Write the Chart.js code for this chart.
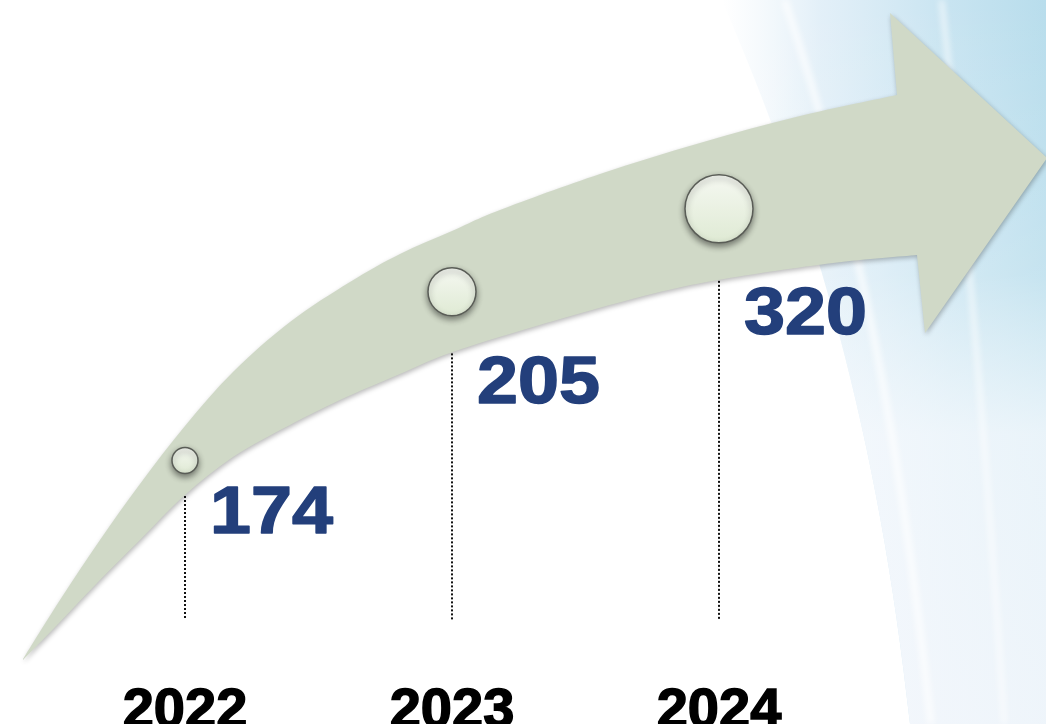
<!DOCTYPE html>
<html>
<head>
<meta charset="utf-8">
<script src="https://cdn.jsdelivr.net/npm/chart.js@4/dist/chart.umd.min.js"></script>
<style>
    html, body { margin: 0; padding: 0; background: #ffffff; }
    #wrap { width: 1046px; height: 724px; position: relative; }
</style>
</head>
<body>
<div id="wrap"><canvas id="growth-chart"></canvas></div>
<script>
const years = [2022, 2023, 2024];
const yearLabels = ['2022', '2023', '2024'];
const values = [174, 205, 320];

const DOT_RADII = [13, 24, 34];
const VALUE_COLOR = '#233f7b';
const ARROW_COLOR = '#d0d9c7';
const AXIS_H = 40;
const DESIGN_W = 1046;
const DESIGN_H = 724 - AXIS_H;
const X_MIN = 2022 - 185 / 267;
const X_MAX = 2024 + 327 / 267;

// arrow outline, traced in the design box (x across, y down)
const arrowUpper = [[23,659],[60,600],[100,540],[140,484],[185,426],[233,372],[290,322],[350,282],[400,254],[452,231],[500,210],[600,174],[700,143],[800,116],[897,95]];
const arrowLower = [[23,660],[60,622],[100,580],[140,540],[185,495],[233,457],[290,425],[340,400],[400,374],[450,353],[533,327],[640,297],[718,280],[833,263],[917,255]];
const arrowHead = [[890,13],[1047,158],[925,333]];

function yearToDesign(year)
{
    return (year - X_MIN) / (X_MAX - X_MIN) * DESIGN_W;
}

function designToYear(x)
{
    return X_MIN + x / DESIGN_W * (X_MAX - X_MIN);
}

function edgeY(edge, x)
{
    for (let i = 0; i < edge.length - 1; i++) {
        const a = edge[i], b = edge[i + 1];
        if (x >= a[0] && x <= b[0]) {
            return a[1] + (b[1] - a[1]) * (x - a[0]) / (b[0] - a[0]);
        }
    }
    return edge[edge.length - 1][1];
}

function arrowMid(x)
{
    return (edgeY(arrowUpper, x) + edgeY(arrowLower, x)) / 2;
}

function toPixel(chart, p)
{
    return [chart.scales.x.getPixelForValue(designToYear(p[0])), chart.scales.y.getPixelForValue(p[1])];
}

function smoothPath(ctx, pts, moveFirst)
{
    if (moveFirst) ctx.moveTo(pts[0][0], pts[0][1]);
    else ctx.lineTo(pts[0][0], pts[0][1]);
    for (let i = 0; i < pts.length - 1; i++) {
        const p0 = pts[Math.max(i - 1, 0)], p1 = pts[i], p2 = pts[i + 1], p3 = pts[Math.min(i + 2, pts.length - 1)];
        ctx.bezierCurveTo(
            p1[0] + (p2[0] - p0[0]) / 6, p1[1] + (p2[1] - p0[1]) / 6,
            p2[0] - (p3[0] - p1[0]) / 6, p2[1] - (p3[1] - p1[1]) / 6,
            p2[0], p2[1]);
    }
}

function drawBackdrop(chart)
{
    const ctx = chart.ctx, w = chart.width, h = chart.height;
    ctx.save();
    ctx.fillStyle = '#ffffff';
    ctx.fillRect(0, 0, w, h);

    // blue swoosh on the right, fading out toward the bottom
    ctx.beginPath();
    ctx.moveTo(w * 0.69, 0);
    ctx.bezierCurveTo(w * 0.78, h * 0.3, w * 0.84, h * 0.6, w * 0.87, h);
    ctx.lineTo(w, h);
    ctx.lineTo(w, 0);
    ctx.closePath();
    const g = ctx.createLinearGradient(w * 0.69, 0, w, 0);
    g.addColorStop(0, 'rgba(230,241,249,0)');
    g.addColorStop(0.3, 'rgba(222,237,247,0.85)');
    g.addColorStop(0.7, 'rgba(200,228,241,1)');
    g.addColorStop(1, 'rgba(184,221,236,1)');
    ctx.fillStyle = g;
    ctx.fill();
    const f = ctx.createLinearGradient(0, 0, 0, h);
    f.addColorStop(0, 'rgba(255,255,255,0)');
    f.addColorStop(0.38, 'rgba(255,255,255,0.2)');
    f.addColorStop(0.6, 'rgba(250,251,254,0.75)');
    f.addColorStop(1, 'rgba(248,249,253,0.85)');
    ctx.fillStyle = f;
    ctx.fill();

    // pale streaks through the band
    ctx.filter = 'blur(3px)';
    ctx.strokeStyle = 'rgba(255,255,255,0.8)';
    ctx.lineWidth = 6;
    ctx.beginPath();
    ctx.moveTo(w * 0.75, 0);
    ctx.bezierCurveTo(w * 0.82, h * 0.3, w * 0.86, h * 0.6, w * 0.89, h);
    ctx.stroke();
    ctx.lineWidth = 4;
    ctx.beginPath();
    ctx.moveTo(w * 0.9, 0);
    ctx.bezierCurveTo(w * 0.92, h * 0.25, w * 0.94, h * 0.55, w * 0.96, h);
    ctx.stroke();
    ctx.filter = 'none';
    ctx.restore();
}

function drawArrow(chart)
{
    const ctx = chart.ctx;
    const upper = arrowUpper.map(p => toPixel(chart, p));
    const lower = arrowLower.map(p => toPixel(chart, p)).reverse();
    const head = arrowHead.map(p => toPixel(chart, p));

    ctx.save();
    ctx.beginPath();
    smoothPath(ctx, upper, true);
    head.forEach(p => ctx.lineTo(p[0], p[1]));
    smoothPath(ctx, lower, false);
    ctx.closePath();
    ctx.shadowColor = 'rgba(0,0,0,0.28)';
    ctx.shadowBlur = 5;
    ctx.shadowOffsetX = 1;
    ctx.shadowOffsetY = 2;
    ctx.fillStyle = ARROW_COLOR;
    ctx.fill();
    ctx.restore();
}

function drawGuides(chart)
{
    const ctx = chart.ctx;
    ctx.save();
    ctx.strokeStyle = '#111111';
    ctx.lineWidth = 2;
    ctx.setLineDash([2, 2]);
    years.forEach(year => {
        const xd = yearToDesign(year);
        const top = toPixel(chart, [xd, edgeY(arrowLower, xd) + 1]);
        const bottom = toPixel(chart, [xd, 620]);
        ctx.beginPath();
        ctx.moveTo(Math.round(top[0]), top[1]);
        ctx.lineTo(Math.round(top[0]), bottom[1]);
        ctx.stroke();
    });
    ctx.restore();
}

function drawValues(chart)
{
    const ctx = chart.ctx;
    const stretch = 1.1;
    ctx.save();
    ctx.font = 'bold 67px "Liberation Sans", Arial, sans-serif';
    ctx.fillStyle = VALUE_COLOR;
    ctx.strokeStyle = VALUE_COLOR;
    ctx.lineWidth = 1.5;
    ctx.lineJoin = 'round';
    ctx.textAlign = 'left';
    ctx.textBaseline = 'alphabetic';
    ctx.scale(stretch, 1);
    values.forEach((v, i) => {
        const xd = yearToDesign(years[i]) + 25;
        const p = toPixel(chart, [xd, edgeY(arrowLower, xd) + 58]);
        ctx.fillText(String(v), p[0] / stretch, p[1]);
        ctx.strokeText(String(v), p[0] / stretch, p[1]);
    });
    ctx.restore();
}

function dotFill(context)
{
    const chart = context.chart;
    const p = context.parsed;
    if (!chart.chartArea || !p) return '#eaf1e3';
    const y = chart.scales.y.getPixelForValue(p.y);
    const r = DOT_RADII[context.dataIndex];
    const g = chart.ctx.createLinearGradient(0, y - r, 0, y + r);
    g.addColorStop(0, '#f5f8f1');
    g.addColorStop(1, '#dfead4');
    return g;
}

const arrowPlugin = {
    id: 'arrowPlugin',
    beforeDraw: chart => drawBackdrop(chart),
    beforeDatasetsDraw: chart => {
        drawGuides(chart);
        drawArrow(chart);
    },
    beforeDatasetDraw: chart => {
        const ctx = chart.ctx;
        ctx.save();
        ctx.shadowColor = 'rgba(0,0,0,0.45)';
        ctx.shadowBlur = 6;
        ctx.shadowOffsetY = 3;
    },
    afterDatasetDraw: chart => chart.ctx.restore(),
    afterDatasetsDraw: chart => drawValues(chart)
};

new Chart('growth-chart', {
    type: 'scatter',
    data: {
        datasets: [{
            data: years.map(year => ({ x: year, y: arrowMid(yearToDesign(year)) })),
            pointRadius: DOT_RADII,
            pointHoverRadius: DOT_RADII,
            pointBorderColor: '#5a5d57',
            pointBorderWidth: 1.5,
            pointBackgroundColor: dotFill,
            clip: false
        }]
    },
    options: {
        responsive: true,
        maintainAspectRatio: false,
        animation: false,
        events: [],
        layout: { padding: 0, autoPadding: false },
        plugins: {
            legend: { display: false },
            tooltip: { enabled: false }
        },
        scales: {
            x: {
                type: 'linear',
                min: X_MIN,
                max: X_MAX,
                grid: { display: false, drawTicks: false },
                border: { display: false },
                ticks: {
                    padding: 0,
                    maxRotation: 0,
                    color: '#000000',
                    textStrokeColor: '#000000',
                    textStrokeWidth: 1.5,
                    font: { family: '"Liberation Sans", Arial, sans-serif', size: 56, weight: 'bold', lineHeight: 1 },
                    callback: v => yearLabels[years.indexOf(v)]
                },
                afterBuildTicks: scale => { scale.ticks = years.map(v => ({ value: v })) },
                afterFit: scale => {
                    scale.height = AXIS_H
                    scale.paddingLeft = 0
                    scale.paddingRight = 0
                }
            },
            y: {
                type: 'linear',
                min: 0,
                max: DESIGN_H,
                reverse: true,
                display: false
            }
        }
    },
    plugins: [arrowPlugin]
})
</script>
</body>
</html>
